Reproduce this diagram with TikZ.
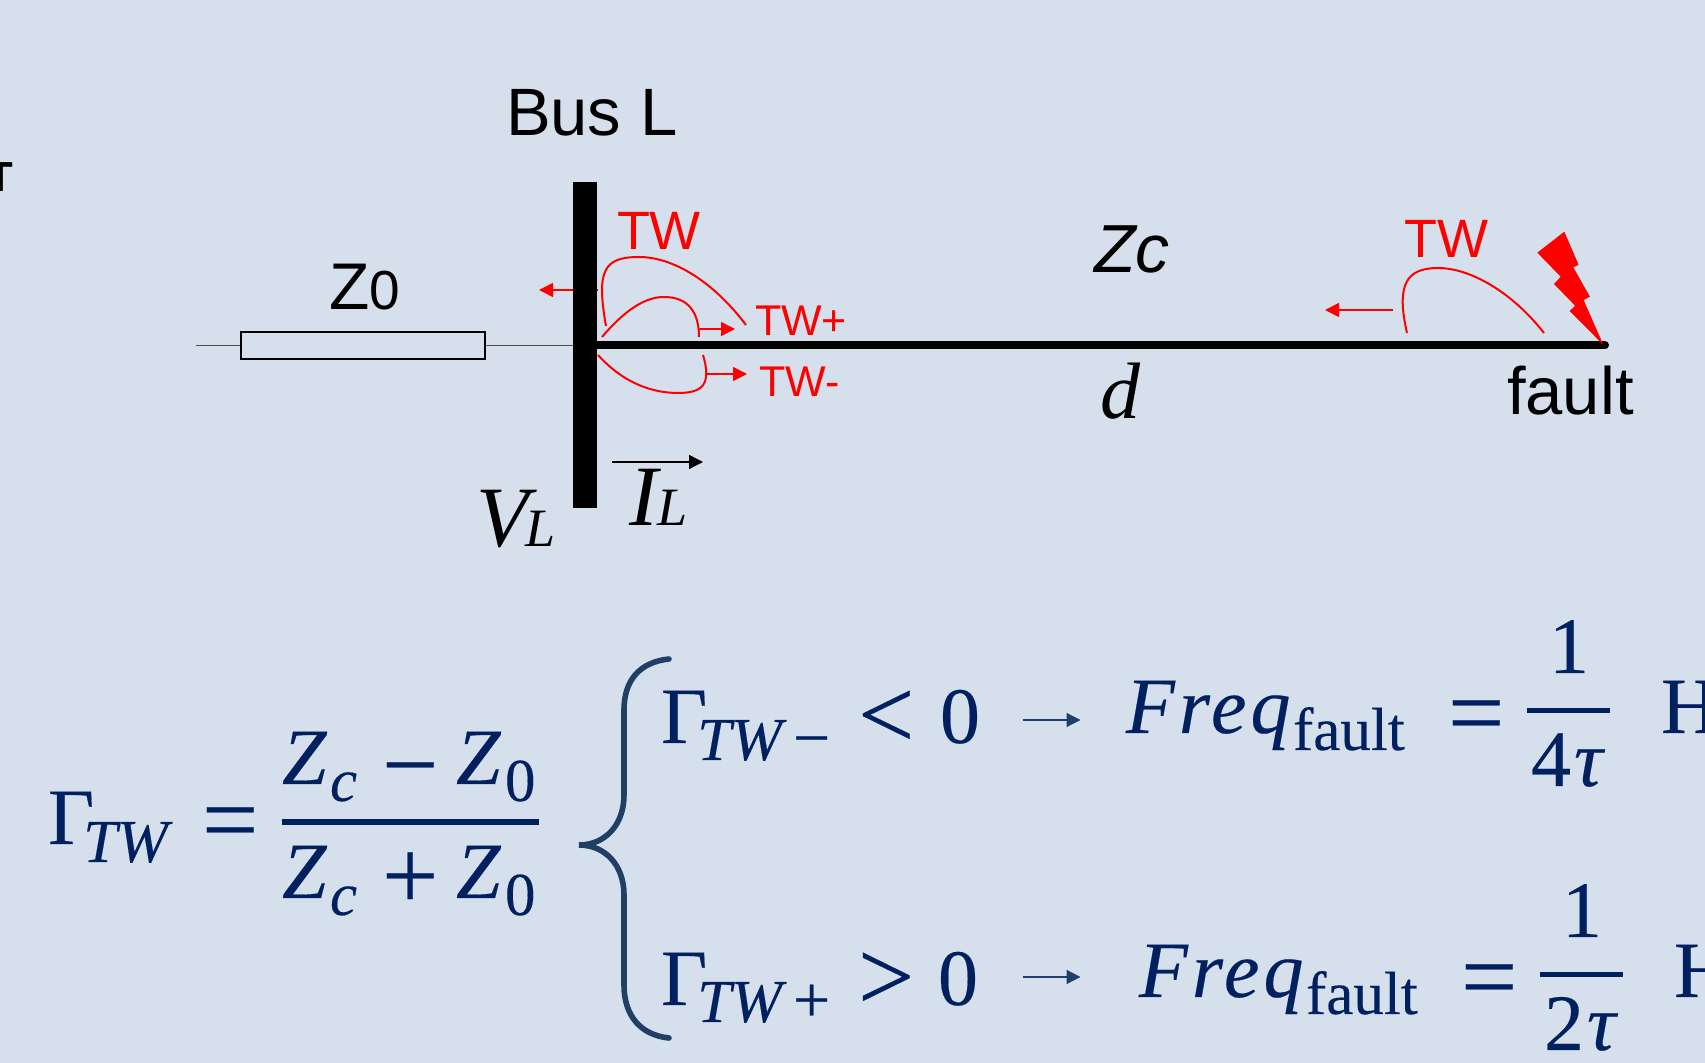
\documentclass[tikz,border=0pt]{standalone}
\usepackage{fontspec}
\setmainfont{Liberation Sans}
\newfontfamily\eqfont[FakeBold=0.25]{Liberation Serif}
\newfontfamily\plainserif{Liberation Serif}
\newcommand{\pxfont}[1]{\fontsize{#1}{#1}\selectfont}
\usetikzlibrary{positioning,arrows.meta,calc}
\definecolor{paneblue}{HTML}{D6E0EC}
\definecolor{eqnavy}{HTML}{002060}
\definecolor{braceblue}{HTML}{1F3F66}

\begin{document}
\begin{tikzpicture}[
    x=0.5pt,
    y=-0.5pt,
    txt/.style={
        anchor=base west,
        inner sep=0pt,
        outer sep=0pt
    },
    sanslabel/.style={txt,font=\pxfont{33.5}},
    redlabel/.style={txt,text=red,font=\pxfont{27}},
    redsmall/.style={txt,text=red,font=\pxfont{21.5}},
    serifbig/.style={txt,font=\plainserif\itshape\pxfont{43}},
    eqbig/.style={txt,text=eqnavy,font=\eqfont\pxfont{40}},
    eqbigit/.style={txt,text=eqnavy,font=\eqfont\itshape\pxfont{40}},
    eqsub/.style={txt,text=eqnavy,font=\eqfont\pxfont{30.5}},
    eqsubit/.style={txt,text=eqnavy,font=\eqfont\itshape\pxfont{30.5}},
    eqrel/.style={txt,text=eqnavy,font=\eqfont\pxfont{50}},
    redcurve/.style={red,line width=1pt},
    redarrow/.style={-{Triangle[length=7pt,width=7pt]},red,line width=0.8pt},
    blackarrow/.style={-{Triangle[length=7pt,width=7pt]},line width=0.7pt},
    navyarrow/.style={-{Triangle[length=7pt,width=7pt]},braceblue,line width=0.6pt},
    thinline/.style={line width=0.5pt,black!70},
    fracbar/.style={eqnavy,line width=2.8pt},
    busbar/.style={fill=black,inner sep=0pt,minimum width=12pt,minimum height=163pt},
    resbox/.style={draw,line width=0.9pt,inner sep=0pt,minimum width=122pt,minimum height=13.5pt}
]

\fill[paneblue] (0,0) rectangle (1705,1063);
\useasboundingbox (0,0) rectangle (1705,1063);

%------------------------------------------------
% Cut-off letter at the left edge
%------------------------------------------------

\node[txt,anchor=base,font=\bfseries\pxfont{21}] (edge) at (0,192) {T};

%------------------------------------------------
% Travelling wave arrows behind the bus
%------------------------------------------------

\coordinate (busout) at (598,290);
\coordinate (busoutend) at (539,290);
\draw[redarrow] (busout) -- (busoutend);

%------------------------------------------------
% Line
%------------------------------------------------

\node[busbar] (bus) at (585,345.5) {};
\node[resbox] (zres) at (363,345.5) {};
\coordinate (linestart) at (196,345.5);
\coordinate (faultpt) at (1605,345.5);

\draw[thinline] (linestart) -- (zres);
\draw[thinline] (zres) -- (bus);
\draw[line width=4pt,line cap=round] (bus) -- (faultpt);

\node[sanslabel] (busl) at (506,136) {Bus L};
\node[txt,font=\pxfont{33}] (zzero) at (329,310) {Z\pxfont{27.5}0};
\node[txt,font=\itshape\pxfont{34}] (zline) at (1094,273) {Zc};
\node[txt,font=\plainserif\itshape\pxfont{40}] (dist) at (1100,419) {d};
\node[sanslabel] (faultlb) at (1507,415) {fault};

%------------------------------------------------
% Bus voltage and current
%------------------------------------------------

\node[serifbig] (volt) at (476,547) {V\kern-1.75pt\pxfont{27}L};
\node[serifbig] (curr) at (629,526) {I\pxfont{27}L};
\coordinate (currstart) at (612,462);
\coordinate (currend) at (703,462);
\draw[blackarrow] (currstart) -- (currend);

%------------------------------------------------
% Waves at the bus
%------------------------------------------------

\node[redlabel] (twbus) at (617,250) {TW};
\node[redsmall] (twplus) at (755,336) {TW+};
\node[redsmall] (twminus) at (759,397) {TW-};

\draw[redcurve] (606,326) .. controls (596,270) and (604,257) .. (639,257)
    .. controls (672,257) and (712,280) .. (746,325);
\draw[redcurve] (602,337) .. controls (625,310) and (645,297) .. (664,297)
    .. controls (688,297) and (699,312) .. (699,337);
\draw[redcurve] (598,355) .. controls (625,385) and (655,393) .. (678,393)
    .. controls (702,393) and (712,385) .. (703,355);

\coordinate (plusstart) at (699,329);
\coordinate (plusend) at (735,329);
\coordinate (minusstart) at (707,374);
\coordinate (minusend) at (747,374);
\draw[redarrow] (plusstart) -- (plusend);
\draw[redarrow] (minusstart) -- (minusend);

%------------------------------------------------
% Wave at the fault
%------------------------------------------------

\node[redlabel] (twfault) at (1404,258) {TW};

\draw[redcurve] (1407,333) .. controls (1396,285) and (1406,268) .. (1438,268)
    .. controls (1470,268) and (1512,292) .. (1544,333);

\coordinate (wavestart) at (1392.5,310);
\coordinate (waveend) at (1325,310);
\draw[redarrow] (wavestart) -- (waveend);

\fill[red] (1564.3,231.7) -- (1578.7,265) -- (1573.3,267.3) -- (1589.9,296.7)
    -- (1583.6,300) -- (1603.4,345) -- (1569.7,311) -- (1575.1,305.7)
    -- (1554,284) -- (1560.7,276.7) -- (1537.3,252.7) -- cycle;

%------------------------------------------------
% Reflection coefficient
%------------------------------------------------

\node[eqbig] (gam) at (48,844)
{Γ\kern-5.5pt\lower9pt\hbox{\itshape\pxfont{30.5}TW}};
\node[eqrel] (gameq) at (202,853) {=};

\foreach \base/\sign/\signy/\name in {784/−/798/num,898/+/909/den}
{
\node[eqbigit] (\name za) at (282,\base) {Z};
\node[eqsubit] (\name c) at (330,\base+17) {c};
\node[eqrel] (\name op) at (382,\signy) {\sign};
\node[eqbigit] (\name zb) at (456,\base) {Z};
\node[eqsub] (\name o) at (505,\base+17) {0};
}

\coordinate (barl) at (282,822);
\coordinate (barr) at (539,822);
\draw[fracbar] (barl) -- (barr);

\draw[braceblue,line width=2.8pt,line cap=round] (669,659)
    .. controls (640,662) and (624,680) .. (624,710) -- (624,795)
    .. controls (624,825) and (605,845) .. (579,845)
    .. controls (605,845) and (624,865) .. (624,895) -- (624,985)
    .. controls (624,1015) and (640,1035) .. (669,1038);

%------------------------------------------------
% Both cases
%------------------------------------------------

\foreach \base/\sub/\rel/\zero/\name in {743/−/</940/neg,1005/+/>/938/pos}
{
\node[eqbig] (\name gam) at (661,\base)
{Γ\kern-5pt\lower8.5pt\hbox{\itshape\pxfont{30.5}TW\kern5.5pt\upshape\pxfont{33}\sub}};
\node[eqrel] (\name rel) at (858,\base+5) {\rel};
\node[eqbig] (\name zero) at (\zero,\base) {0};
}

\foreach \xa/\base/\arrowy/\den/\name in {1126/733/720/4/top,1139/997/977/2/low}
{
\coordinate (\name arrowa) at (1022.5,\arrowy);
\coordinate (\name arrowb) at (1080.5,\arrowy);
\draw[navyarrow] (\name arrowa) -- (\name arrowb);
\node[eqbigit] (\name freq) at (\xa,\base)
{\addfontfeature{LetterSpace=5}Freq};
\node[eqsub] (\name fault) at (\xa+167,\base+17) {fault};
\node[eqrel] (\name eq) at (\xa+322,\base+13) {=};
\coordinate (\name bara) at (\xa+401,\base-22.5);
\coordinate (\name barb) at (\xa+484,\base-22.5);
\draw[fracbar] (\name bara) -- (\name barb);
\node[eqbig] (\name one) at (\xa+423,\base-60) {1};
\node[eqbig] (\name den) at (\xa+405,\base+53) {\den\hspace{1.5pt}\itshape τ};
\node[eqbig] (\name unit) at (\xa+535,\base) {H};
}

\end{tikzpicture}
\end{document}
